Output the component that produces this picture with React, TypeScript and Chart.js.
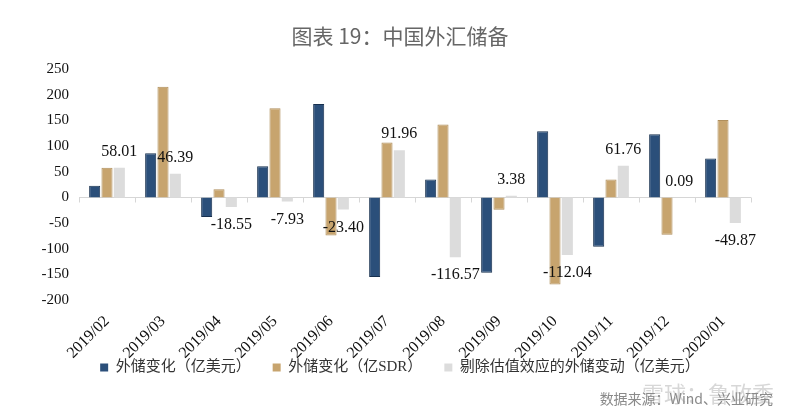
import React, { useEffect, useRef } from "react";
import { Chart, registerables } from "chart.js";

Chart.register(...registerables);

const titleText = "图表 19：中国外汇储备";
const sourceText = "数据来源：Wind、兴业研究";
const watermarkText = "雪球：鲁政委";

const categories = [
  "2019/02", "2019/03", "2019/04", "2019/05", "2019/06", "2019/07",
  "2019/08", "2019/09", "2019/10", "2019/11", "2019/12", "2020/01",
];
const seriesNames = [
  "外储变化（亿美元）",
  "外储变化（亿SDR）",
  "剔除估值效应的外储变动（亿美元）",
];
const reserveUSD = [23, 86, -38, 61, 182, -155, 35, -147, 129, -96, 123, 76];
const reserveSDR = [58, 216, 16, 174, -74, 107, 142, -24, -170, 35, -73, 151];
const reserveExValuation = [58.01, 46.39, -18.55, -7.93, -23.4, 91.96, -116.57, 3.38, -112.04, 61.76, 0.09, -49.87];
const yMin = -200;
const yMax = 250;
const yStep = 50;

const SERIF = '"Liberation Serif", "Times New Roman", serif';
const LEGEND_FONT = '"Liberation Serif", "Noto Sans CJK SC", serif';

const zeroLinePlugin = {
  id: "zeroLine",
  beforeDatasetsDraw(chart: any) {
    const { ctx, chartArea, scales } = chart;
    const y = Math.round(scales.y.getPixelForValue(0)) + 0.5;
    ctx.save();
    ctx.strokeStyle = "#d6d6d6";
    ctx.lineWidth = 1;
    ctx.beginPath();
    ctx.moveTo(chartArea.left, y);
    ctx.lineTo(chartArea.right, y);
    const n = categories.length;
    const w = (chartArea.right - chartArea.left) / n;
    for (let i = 0; i <= n; i++) {
      const x = Math.round(chartArea.left + i * w) + 0.5;
      ctx.moveTo(x, y);
      ctx.lineTo(x, y + 5);
    }
    ctx.stroke();
    ctx.restore();
  },
};

const valueLabelPlugin = {
  id: "valueLabels",
  afterDatasetsDraw(chart: any) {
    const { ctx } = chart;
    const meta = chart.getDatasetMeta(2);
    ctx.save();
    ctx.font = `16px ${SERIF}`;
    ctx.fillStyle = "#111";
    ctx.textAlign = "center";
    ctx.textBaseline = "middle";
    meta.data.forEach((el: any, i: number) => {
      const v = reserveExValuation[i];
      const y = v >= 0 ? el.y - 16 : el.y + 18;
      ctx.fillText(v.toFixed(2), el.x, y);
    });
    ctx.restore();
  },
};

export default function App() {
  const canvasRef = useRef<HTMLCanvasElement>(null);

  useEffect(() => {
    if (!canvasRef.current) return;
    const chart = new Chart(canvasRef.current, {
      type: "bar",
      data: {
        labels: categories,
        datasets: [
          {
            label: seriesNames[0],
            data: reserveUSD,
            backgroundColor: "#2b4f7a",
            borderColor: "#17304f",
            borderWidth: 1,
            categoryPercentage: 0.66,
            barPercentage: 0.9,
          },
          {
            label: seriesNames[1],
            data: reserveSDR,
            backgroundColor: "#c7a46e",
            borderColor: "#b08f5c",
            borderWidth: 1,
            categoryPercentage: 0.66,
            barPercentage: 0.9,
          },
          {
            label: seriesNames[2],
            data: reserveExValuation,
            backgroundColor: "#dcdcdc",
            borderWidth: 0,
            categoryPercentage: 0.66,
            barPercentage: 0.9,
          },
        ],
      },
      options: {
        responsive: false,
        animation: false,
        maintainAspectRatio: false,
        layout: { padding: { left: 0, right: 0, top: 0, bottom: 35 } },
        plugins: {
          title: {
            display: true,
            text: titleText,
            color: "#666",
            font: { family: '"Noto Sans CJK SC", sans-serif', size: 21, weight: "normal" },
            padding: { top: 23, bottom: 21 },
          },
          legend: {
            display: true,
            position: "bottom",
            labels: {
              boxWidth: 8,
              boxHeight: 8,
              padding: 22,
              color: "#333",
              font: { family: LEGEND_FONT, size: 15 },
              generateLabels: (c: any) =>
                c.data.datasets.map((ds: any, i: number) => ({
                  text: ds.label,
                  fillStyle: ds.backgroundColor,
                  strokeStyle: ds.backgroundColor,
                  lineWidth: 0,
                  datasetIndex: i,
                  hidden: false,
                  fontColor: "#333",
                })),
            },
          },
          tooltip: { enabled: false },
        },
        scales: {
          x: {
            grid: { display: false, drawTicks: false },
            border: { display: false },
            ticks: {
              color: "#111",
              font: { family: SERIF, size: 16 },
              minRotation: 45,
              maxRotation: 45,
              padding: 12,
            },
            afterFit: (s: any) => {
              s.height = 38;
              s._computeLabelArea = () => undefined;
            },
          },
          y: {
            min: yMin,
            max: yMax,
            grid: { display: false, drawTicks: false },
            border: { display: false },
            ticks: {
              stepSize: yStep,
              color: "#111",
              font: { family: SERIF, size: 15 },
              padding: 10,
            },
            afterFit: (s: any) => {
              s.width = 79;
            },
          },
          yRight: {
            position: "right",
            display: true,
            grid: { display: false, drawTicks: false },
            border: { display: false },
            ticks: { display: false },
            afterFit: (s: any) => {
              s.width = 49;
            },
          },
        },
      },
      plugins: [zeroLinePlugin, valueLabelPlugin],
    });
    return () => chart.destroy();
  }, []);

  return (
    <div style={{ position: "fixed", left: 0, top: 0, width: 800, height: 420, background: "#fff" }}>
      <canvas ref={canvasRef} width={800} height={420} style={{ display: "block" }} />
      <div
        style={{
          position: "absolute",
          right: 26,
          top: 376,
          fontFamily: '"Noto Sans CJK SC", sans-serif',
          fontSize: 22,
          color: "rgba(140,140,140,0.35)",
          whiteSpace: "nowrap",
        }}
      >
        {watermarkText}
      </div>
      <div
        style={{
          position: "absolute",
          right: 27,
          top: 388,
          fontFamily: '"Noto Sans CJK SC", sans-serif',
          fontSize: 14,
          color: "#8a8a8a",
          whiteSpace: "nowrap",
        }}
      >
        {sourceText}
      </div>
    </div>
  );
}
